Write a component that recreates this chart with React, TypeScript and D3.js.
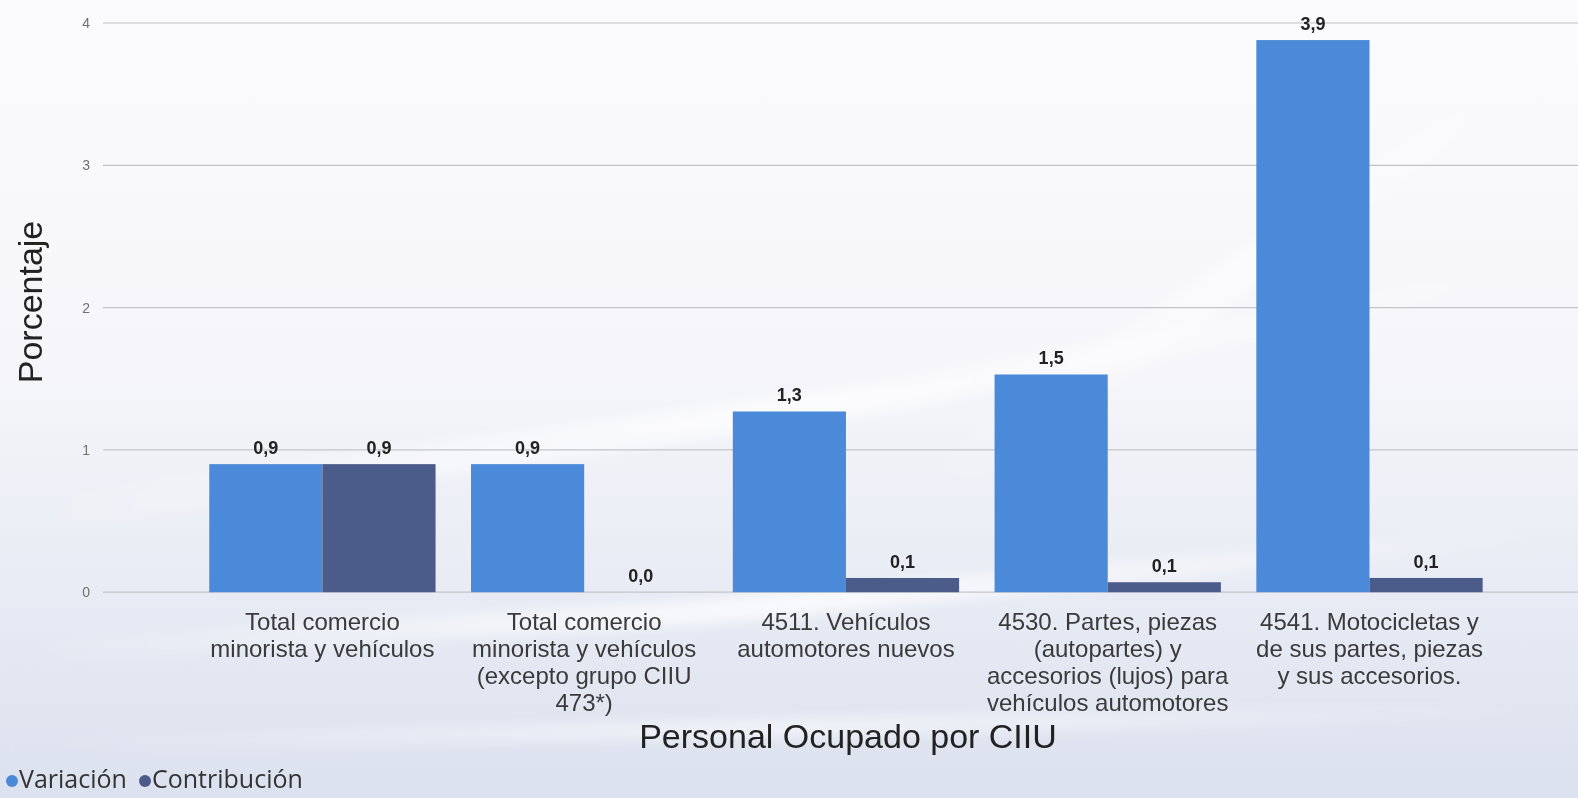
import React from "react";
import * as d3 from "d3";

const categories: string[][] = [
  ["Total comercio", "minorista y vehículos"],
  ["Total comercio", "minorista y vehículos", "(excepto grupo CIIU", "473*)"],
  ["4511. Vehículos", "automotores nuevos"],
  ["4530. Partes, piezas", "(autopartes) y", "accesorios (lujos) para", "vehículos automotores"],
  ["4541. Motocicletas y", "de sus partes, piezas", "y sus accesorios."],
];
const seriesNames = ["Variación", "Contribución"];
const variacion = [0.9, 0.9, 1.27, 1.53, 3.88];
const contribucion = [0.9, 0.0, 0.1, 0.07, 0.1];
const yTicks = [0, 1, 2, 3, 4];

const W = 1578;
const H = 798;
const colors = ["#4a8ad9", "#4b5b8a"];

export default function App() {
  const y = d3.scaleLinear().domain([0, 4]).range([592.2, 23]);
  const keys = categories.map((_, i) => String(i));
  const x = d3
    .scaleBand<string>()
    .domain(keys)
    .range([191.5, 1500.4])
    .paddingInner(0.1355)
    .paddingOuter(0.0678);
  const xs = d3.scaleBand<string>().domain(seriesNames).range([0, x.bandwidth()]).padding(0);
  const values = [variacion, contribucion];
  const fmt = (v: number) => d3.format(".1f")(v).replace(".", ",");
  const gridX0 = 103;
  const gridX1 = W;

  return (
    <div style={{ position: "fixed", left: 0, top: 0, width: W, height: H }}>
      <svg width={W} height={H} style={{ display: "block" }}>
        <defs>
          <linearGradient id="bg" x1="0" y1="0" x2="0" y2="1">
            <stop offset="0" stopColor="#fbfbfd" />
            <stop offset="0.45" stopColor="#f6f6fa" />
            <stop offset="0.75" stopColor="#e8ebf4" />
            <stop offset="1" stopColor="#dbe1ee" />
          </linearGradient>
          <linearGradient id="streak" x1="0" y1="0" x2="1" y2="0">
            <stop offset="0" stopColor="#ffffff" stopOpacity="0" />
            <stop offset="0.5" stopColor="#ffffff" stopOpacity="0.8" />
            <stop offset="1" stopColor="#ffffff" stopOpacity="0" />
          </linearGradient>
          <filter id="blur" x="-10%" y="-50%" width="120%" height="200%">
            <feGaussianBlur stdDeviation="6" />
          </filter>
        </defs>
        <rect x={0} y={0} width={W} height={H} fill="url(#bg)" />
        <g filter="url(#blur)" opacity={0.9}>
          <polygon points="0,500 900,380 1578,250 1578,275 900,410 0,540" fill="url(#streak)" />
          <polygon points="0,640 700,600 1578,520 1578,540 700,625 0,665" fill="url(#streak)" />
          <polygon points="900,480 1578,20 1578,60 980,480" fill="url(#streak)" opacity={0.6} />
          <polygon points="0,735 1578,700 1578,720 0,755" fill="url(#streak)" opacity={0.7} />
        </g>

        {yTicks.map((t) => (
          <g key={t}>
            <line x1={gridX0} x2={gridX1} y1={y(t)} y2={y(t)} stroke="#c4c4c8" strokeWidth={1.2} />
            <text
              x={90}
              y={y(t)}
              dy="0.35em"
              textAnchor="end"
              fontFamily="Liberation Sans, Arial, sans-serif"
              fontSize={14}
              fill="#707070"
            >
              {t}
            </text>
          </g>
        ))}

        {keys.map((k, i) => (
          <g key={k} transform={`translate(${x(k)},0)`}>
            {seriesNames.map((s, si) => {
              const v = values[si][i];
              const bx = xs(s) as number;
              return (
                <g key={s}>
                  <rect
                    x={bx}
                    y={y(v)}
                    width={xs.bandwidth()}
                    height={y(0) - y(v)}
                    fill={colors[si]}
                  />
                  <text
                    x={bx + xs.bandwidth() / 2}
                    y={y(v) - 10}
                    textAnchor="middle"
                    fontFamily="Liberation Sans, Arial, sans-serif"
                    fontWeight="bold"
                    fontSize={18}
                    fill="#222"
                  >
                    {fmt(v)}
                  </text>
                </g>
              );
            })}
            <text
              x={x.bandwidth() / 2}
              textAnchor="middle"
              fontFamily="Liberation Sans, Arial, sans-serif"
              fontSize={24}
              fill="#3a3a3a"
            >
              {categories[i].map((line, li) => (
                <tspan key={li} x={x.bandwidth() / 2} y={630 + li * 27}>
                  {line}
                </tspan>
              ))}
            </text>
          </g>
        ))}

        <text
          x={848}
          y={748}
          textAnchor="middle"
          fontFamily="Liberation Sans, Arial, sans-serif"
          fontSize={34}
          fill="#222"
        >
          Personal Ocupado por CIIU
        </text>
        <text
          transform={`translate(42,302) rotate(-90)`}
          textAnchor="middle"
          fontFamily="Liberation Sans, Arial, sans-serif"
          fontSize={34}
          fill="#222"
        >
          Porcentaje
        </text>

        <g fontFamily="Open Sans, sans-serif" fontSize={25} fill="#333">
          <circle cx={12} cy={781} r={6} fill={colors[0]} />
          <text x={19} y={788}>
            {seriesNames[0]}
          </text>
          <circle cx={145} cy={781} r={6} fill={colors[1]} />
          <text x={152} y={788}>
            {seriesNames[1]}
          </text>
        </g>
      </svg>
    </div>
  );
}
